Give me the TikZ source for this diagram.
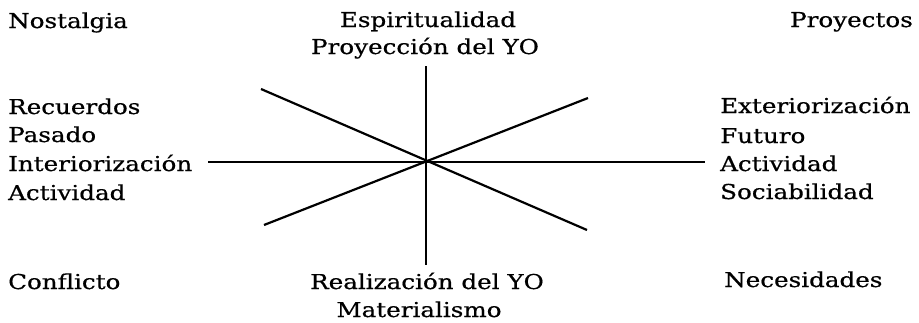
\documentclass[tikz,border=0pt]{standalone}
\usepackage{fontspec}
\setmainfont{DejaVu Serif}[FakeStretch=1.2,FakeBold=0.6]
\begin{document}
\begin{tikzpicture}[x=1pt,y=-1pt,
  lbl/.style={inner sep=0pt,font=\fontsize{20.5}{24}\selectfont},
  spoke/.style={line width=2.2pt,black}]
\useasboundingbox[fill=white] (0,0) rectangle (919,322);
% spoke ends
\coordinate (c) at (427,162);
\coordinate (t) at (426,66);
\coordinate (b) at (426,265);
\coordinate (l) at (208,162);
\coordinate (r) at (705,162);
\coordinate (d1) at (261,89);
\coordinate (d2) at (587,230);
\coordinate (d3) at (264,225);
\coordinate (d4) at (588,98);
\draw[spoke] (t) -- (b);
\draw[spoke] (l) -- (r);
\draw[spoke] (d1) -- (d2);
\draw[spoke] (d3) -- (d4);
% top / bottom
\node[lbl,anchor=base] (esp) at (428,27) {Espiritualidad};
\node[lbl,anchor=base] (pro) at (425,54) {Proyección del YO};
\node[lbl,anchor=base] (rea) at (427,289) {Realización del YO};
\node[lbl,anchor=base] (mat) at (419,317) {Materialismo};
% left
\node[lbl,anchor=base west] (nos) at (8,28) {Nostalgia};
\node[lbl,anchor=base west] (rec) at (8,114) {Recuerdos};
\node[lbl,anchor=base west] (pas) at (8,142) {Pasado};
\node[lbl,anchor=base west] (int) at (8,171) {Interiorización};
\node[lbl,anchor=base west] (act1) at (8,200) {Actividad};
\node[lbl,anchor=base west] (con) at (8,289) {Conflicto};
% right
\node[lbl,anchor=base east] (pry) at (913,27) {Proyectos};
\node[lbl,anchor=base west] (ext) at (720,113) {Exteriorización};
\node[lbl,anchor=base west] (fut) at (720,143) {Futuro};
\node[lbl,anchor=base west] (act2) at (720,171) {Actividad};
\node[lbl,anchor=base west] (soc) at (720,199) {Sociabilidad};
\node[lbl,anchor=base west] (nec) at (724,287) {Necesidades};
\end{tikzpicture}
\end{document}
